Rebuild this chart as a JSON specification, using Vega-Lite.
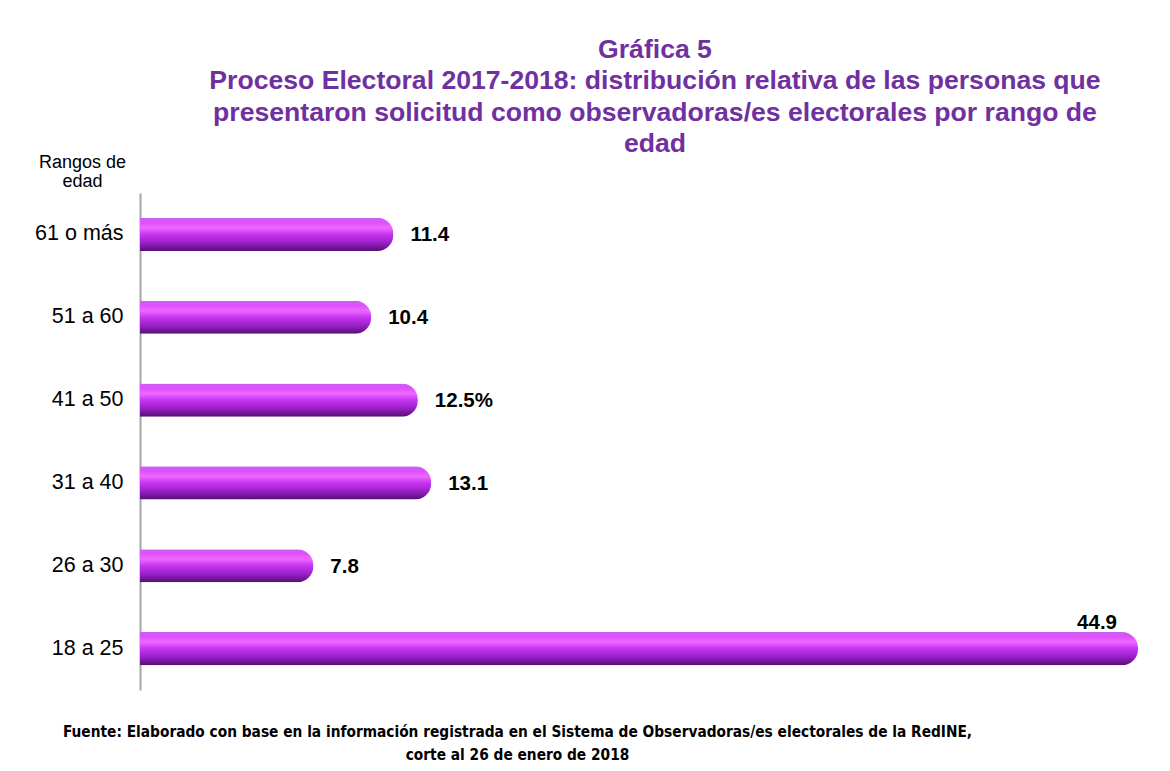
{
  "$schema": "https://vega.github.io/schema/vega-lite/v6.json",
  "autosize": {"type": "none"},
  "padding": {"left": 140, "top": 193, "right": 32, "bottom": 81},
  "width": 998,
  "height": 497,
  "background": "white",
  "config": {"view": {"stroke": null}, "font": "Liberation Sans"},
  "title": {
    "text": ["Gráfica 5", "Proceso Electoral 2017-2018: distribución relativa de las personas que", "presentaron solicitud como observadoras/es electorales por rango de", "edad"],
    "font": "Liberation Sans",
    "fontSize": 26.6,
    "fontWeight": "bold",
    "color": "#7030a0",
    "lineHeight": 31.5,
    "anchor": "middle",
    "frame": "group",
    "dx": 16,
    "offset": -5
  },
  "data": {
    "values": [
      {"rango": "61 o más", "valor": 11.4, "etiqueta": "11.4"},
      {"rango": "51 a 60", "valor": 10.4, "etiqueta": "10.4"},
      {"rango": "41 a 50", "valor": 12.5, "etiqueta": "12.5%"},
      {"rango": "31 a 40", "valor": 13.1, "etiqueta": "13.1"},
      {"rango": "26 a 30", "valor": 7.8, "etiqueta": "7.8"},
      {"rango": "18 a 25", "valor": 44.9, "etiqueta": "44.9"}
    ]
  },
  "encoding": {
    "y": {
      "field": "rango",
      "type": "nominal",
      "sort": ["61 o más", "51 a 60", "41 a 50", "31 a 40", "26 a 30", "18 a 25"],
      "scale": {"paddingInner": 0.6, "paddingOuter": 0.3},
      "axis": {
        "title": ["Rangos de", "edad"],
        "titleAngle": 0,
        "titleAlign": "center",
        "titleBaseline": "bottom",
        "titleX": -58,
        "titleY": -22,
        "titleFont": "Liberation Sans",
        "titleFontSize": 18,
        "titleFontWeight": "normal",
        "titleColor": "black",
        "titleLineHeight": 19,
        "labelFont": "Liberation Sans",
        "labelFontSize": 21.5,
        "labelColor": "black",
        "labelPadding": 17,
        "ticks": false,
        "domainColor": "#a6a6a6",
        "domainWidth": 2,
        "grid": false
      }
    },
    "x": {
      "field": "valor",
      "type": "quantitative",
      "scale": {"domain": [0, 44.9], "nice": false, "zero": true},
      "axis": {
        "title": ["Fuente:  Elaborado con base en la información registrada en el Sistema de Observadoras/es electorales de la RedINE,", "corte al 26 de enero de 2018"],
        "titleFont": "DejaVu Sans Condensed, Liberation Sans Narrow, Roboto, sans-serif",
        "titleFontSize": 15.3,
        "titleFontWeight": "bold",
        "titleColor": "black",
        "titleLineHeight": 23,
        "titleAnchor": "middle",
        "titleX": 377,
        "titleY": 41,
        "titleBaseline": "middle",
        "labels": false,
        "ticks": false,
        "domain": false,
        "grid": false
      }
    }
  },
  "layer": [
    {
      "mark": {
        "type": "bar",
        "cornerRadiusEnd": 16,
        "color": {
          "gradient": "linear",
          "x1": 0, "y1": 0, "x2": 0, "y2": 1,
          "stops": [
            {"offset": 0, "color": "#c860ee"},
            {"offset": 0.15, "color": "#e050ff"},
            {"offset": 0.3, "color": "#ee68ff"},
            {"offset": 0.5, "color": "#c535f2"},
            {"offset": 0.75, "color": "#9a20c8"},
            {"offset": 1, "color": "#550e74"}
          ]
        }
      }
    },
    {
      "transform": [{"filter": "datum.valor < 40"}],
      "mark": {"type": "text", "align": "left", "baseline": "middle", "dx": 17, "dy": 1, "font": "Liberation Sans", "fontSize": 20.5, "fontWeight": "bold", "color": "black"},
      "encoding": {"text": {"field": "etiqueta"}}
    },
    {
      "transform": [{"filter": "datum.valor >= 40"}],
      "mark": {"type": "text", "align": "right", "baseline": "middle", "dx": -21, "dy": -26, "font": "Liberation Sans", "fontSize": 20.5, "fontWeight": "bold", "color": "black"},
      "encoding": {"text": {"field": "etiqueta"}}
    }
  ]
}
